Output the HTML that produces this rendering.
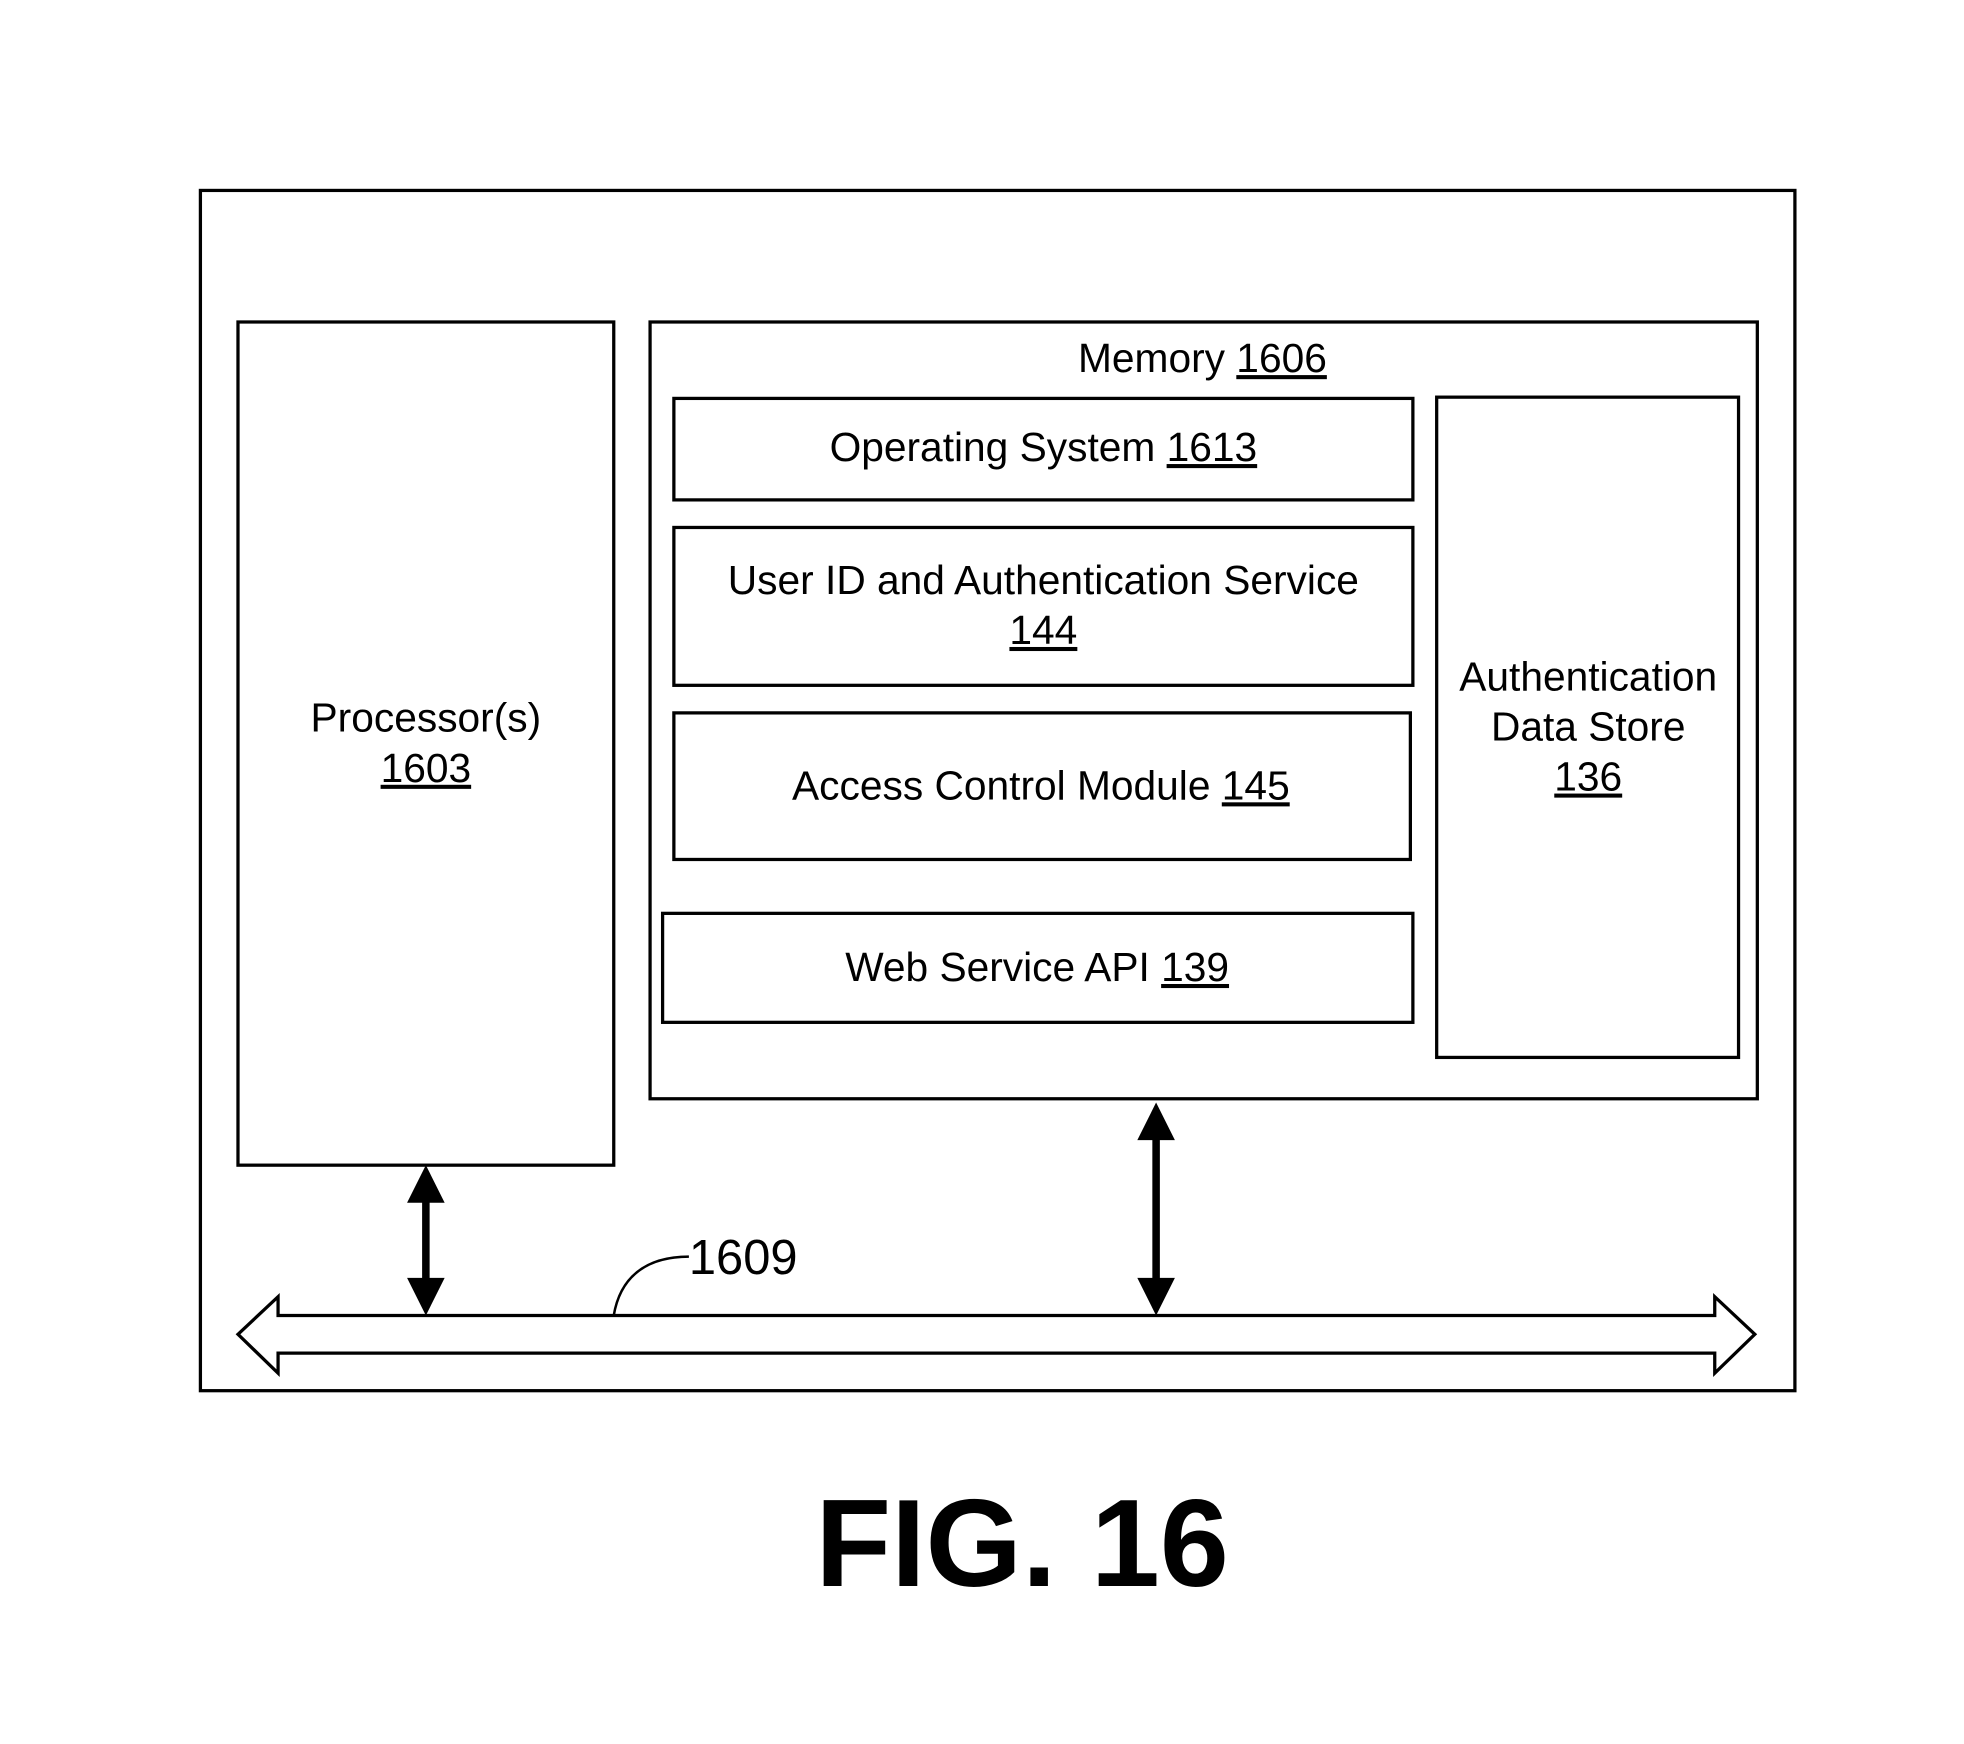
<!DOCTYPE html>
<html><head><meta charset="utf-8"><style>
html,body{margin:0;padding:0;background:#fff;}
svg{display:block;}
text{font-family:"Liberation Sans",Arial,sans-serif;fill:#000;}
</style></head><body>
<svg width="1964" height="1744" viewBox="0 0 1568 1392" preserveAspectRatio="none" xmlns="http://www.w3.org/2000/svg">
<g fill="none" stroke="#000" stroke-width="2.6">
<rect x="160" y="152" width="1273" height="958"/>
<rect x="190" y="257" width="300" height="673"/>
<rect x="519" y="257" width="884" height="620"/>
<rect x="538" y="318" width="590" height="81"/>
<rect x="538" y="421" width="590" height="126"/>
<rect x="538" y="569" width="588" height="117"/>
<rect x="529" y="729" width="599" height="87"/>
<rect x="1147" y="317" width="241" height="527"/>
<path d="M190,1065 L222,1035 L222,1050 L1369,1050 L1369,1035 L1401,1065 L1369,1096 L1369,1080 L222,1080 L222,1096 Z"/>
<path d="M490,1050 C495,1020 515,1003 550,1003" stroke-width="2"/>
</g>
<g fill="#000" stroke="none">
<rect x="337" y="955" width="6" height="72"/>
<polygon points="340,930 325,960 355,960"/>
<polygon points="340,1050 325,1020 355,1020"/>
<rect x="920" y="905" width="6" height="122"/>
<polygon points="923,880 908,910 938,910"/>
<polygon points="923,1050 908,1020 938,1020"/>
</g>
<g font-size="32.5" text-anchor="middle">
<text x="960" y="297">Memory <tspan text-decoration="underline">1606</tspan></text>
<text x="833" y="368">Operating System <tspan text-decoration="underline">1613</tspan></text>
<text x="833" y="474">User ID and Authentication Service</text>
<text x="833" y="514" text-decoration="underline">144</text>
<text x="831" y="638">Access Control Module <tspan text-decoration="underline">145</tspan></text>
<text x="828" y="783">Web Service API <tspan text-decoration="underline">139</tspan></text>
<text x="1268" y="551">Authentication</text>
<text x="1268" y="591">Data Store</text>
<text x="1268" y="631" text-decoration="underline">136</text>
<text x="340" y="584">Processor(s)</text>
<text x="340" y="624" text-decoration="underline">1603</text>
</g>
<text x="550" y="1017" font-size="39">1609</text>
<text x="816" y="1266" font-size="99" font-weight="bold" text-anchor="middle">FIG. 16</text>
</svg>
</body></html>
